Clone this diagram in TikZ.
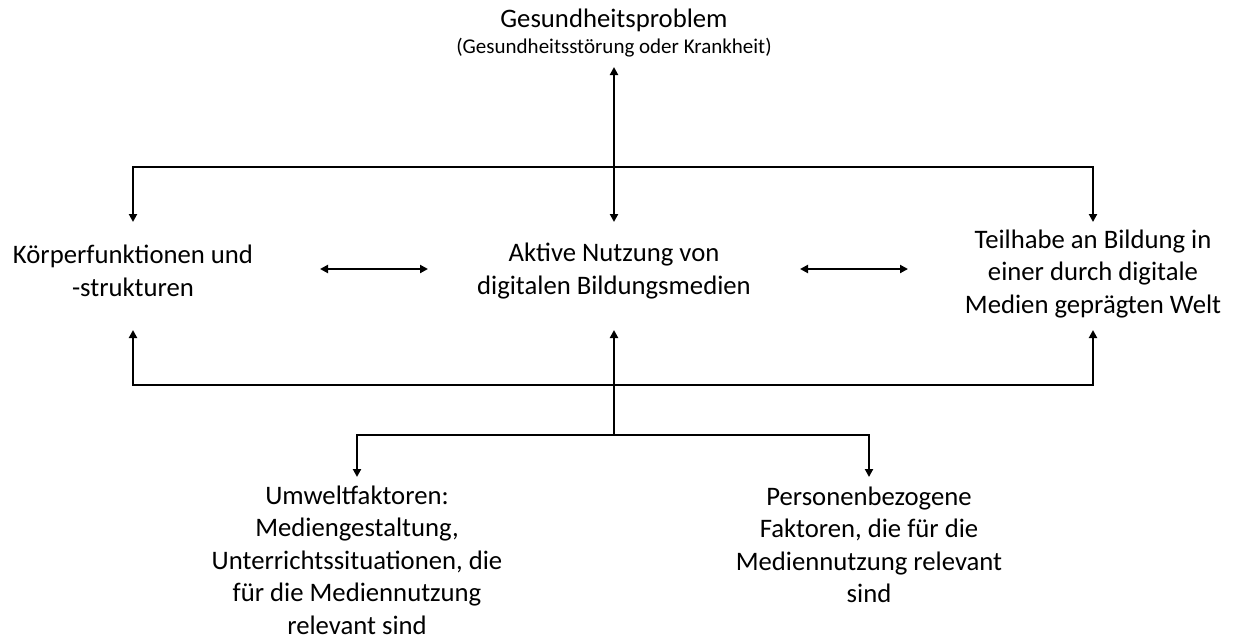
\documentclass[tikz,border=0pt]{standalone}
\usepackage{fontspec}
\setmainfont{Carlito}
\usetikzlibrary{arrows.meta}
\tikzset{
  txt/.style={align=center, font=\fontsize{26.7}{32.5}\selectfont, inner sep=0pt},
  subtxt/.style={align=center, font=\fontsize{21}{24}\selectfont, inner sep=0pt},
  wire/.style={line width=2.2pt, line cap=rect},
  conn/.style={line width=2.2pt, -{Triangle[length=8pt,width=8pt]}},
  both/.style={line width=2.2pt, {Triangle[length=8pt,width=8pt]}-{Triangle[length=8pt,width=8pt]}}
}
\begin{document}
\begin{tikzpicture}[x=1pt,y=-1pt]
\useasboundingbox (0,0) rectangle (1234,641);
% texts
\node[txt] (gp) at (614,20) {Gesundheitsproblem};
\node[subtxt] (gps) at (614,48) {(Gesundheitsstörung oder Krankheit)};
\node[txt] (koerper) at (133,271) {Körperfunktionen und\\-strukturen};
\node[txt] (aktiv) at (614,271) {Aktive Nutzung von\\digitalen Bildungsmedien};
\node[txt] (teil) at (1093,274) {Teilhabe an Bildung in\\einer durch digitale\\Medien geprägten Welt};
\node[txt] (umwelt) at (357,560) {Umweltfaktoren:\\Mediengestaltung,\\Unterrichtssituationen, die\\für die Mediennutzung\\relevant sind};
\node[txt] (person) at (869,545) {Personenbezogene\\Faktoren, die für die\\Mediennutzung relevant\\sind};
% junction coordinates
\coordinate (gpT) at (614,67);
\coordinate (aT) at (614,222);
\coordinate (aB) at (614,330);
\coordinate (kT) at (133,222);
\coordinate (kB) at (133,330);
\coordinate (tT) at (1093,222);
\coordinate (tB) at (1093,330);
\coordinate (jTop) at (614,167);
\coordinate (jTL) at (133,167);
\coordinate (jTR) at (1093,167);
\coordinate (jBot) at (614,385);
\coordinate (jBL) at (133,385);
\coordinate (jBR) at (1093,385);
\coordinate (jS) at (614,435);
\coordinate (jSL) at (357,435);
\coordinate (jSR) at (869,435);
\coordinate (uT) at (357,477);
\coordinate (pT) at (869,477);
\coordinate (kR) at (320,269);
\coordinate (aL) at (428,269);
\coordinate (aR) at (800,269);
\coordinate (tL) at (908,269);
% connectors
\draw[both] (gpT) -- (aT);
\draw[wire] (jTL) -- (jTR);
\draw[conn] (jTL) -- (kT);
\draw[conn] (jTR) -- (tT);
\draw[both] (kR) -- (aL);
\draw[both] (aR) -- (tL);
\draw[wire] (jBL) -- (jBR);
\draw[conn] (jBL) -- (kB);
\draw[conn] (jBR) -- (tB);
\draw[conn] (jBot) -- (aB);
\draw[wire] (jBot) -- (jS);
\draw[wire] (jSL) -- (jSR);
\draw[conn] (jSL) -- (uT);
\draw[conn] (jSR) -- (pT);
\end{tikzpicture}
\end{document}
